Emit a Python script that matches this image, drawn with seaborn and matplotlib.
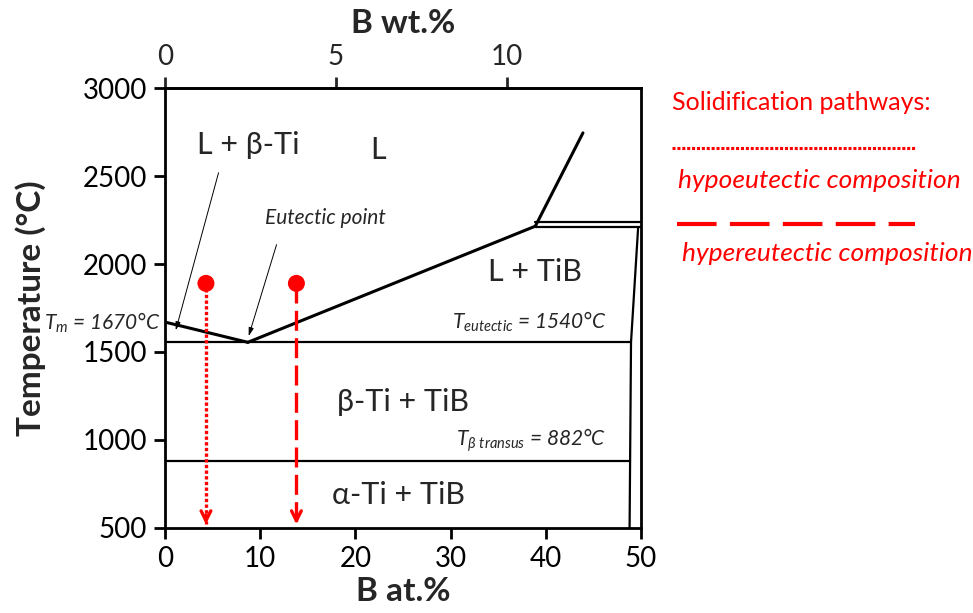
import numpy as np
import pandas as pd
import matplotlib
matplotlib.use("Agg")
import matplotlib.pyplot as plt
from matplotlib.lines import Line2D
import seaborn as sns

# phase boundaries (B at.%, temperature in C)
liq_left_x = [0, 8.7]
liq_left_t = [1670, 1555]
liq_right_x = [8.7, 38.9]
liq_right_t = [1555, 2215]
liq_upper_x = [38.9, 43.9]
liq_upper_t = [2215, 2745]
tib_top1_x = [38.9, 50]
tib_top1_t = [2240, 2240]
tib_top2_x = [38.9, 50]
tib_top2_t = [2210, 2210]
tib_side_x = [49.7, 48.95, 48.8]
tib_side_t = [2210, 1555, 500]
eutectic_x = [0, 48.95]
eutectic_t = [1555, 1555]
transus_x = [0, 48.8]
transus_t = [882, 882]

# solidification pathways
hypo_x = 4.3
hyper_x = 13.8
start_t = 1890
end_t = 500

# top axis: 10 wt.% sits at about 35.9 at.%
wt10_at = 35.9

sns.set_style("white")
plt.rcParams["font.family"] = ["Lato", "DejaVu Sans"]
plt.rcParams["mathtext.fontset"] = "custom"
plt.rcParams["mathtext.rm"] = "Lato"
plt.rcParams["mathtext.it"] = "Lato:italic"

fig = plt.figure(figsize=(9.73, 6.13), dpi=100)
ax = fig.add_axes([0.1696, 0.1387, 0.4892, 0.7177])

segments = [
    (liq_left_x, liq_left_t, 2.2),
    (liq_right_x, liq_right_t, 2.2),
    (liq_upper_x, liq_upper_t, 2.2),
    (tib_top1_x, tib_top1_t, 1.6),
    (tib_top2_x, tib_top2_t, 1.6),
    (tib_side_x, tib_side_t, 1.6),
    (eutectic_x, eutectic_t, 1.6),
    (transus_x, transus_t, 1.6),
]
for xs, ts, lw in segments:
    sns.lineplot(x=xs, y=ts, ax=ax, color="black", lw=lw, sort=False,
                 estimator=None)

# pathways
sns.lineplot(x=[hypo_x, hypo_x], y=[start_t, end_t + 25], ax=ax, color="red",
             lw=2.4, linestyle=(0, (1, 0.7)), sort=False, estimator=None)
sns.lineplot(x=[hyper_x, hyper_x], y=[start_t, end_t + 25], ax=ax, color="red",
             lw=2.4, linestyle=(0, (6, 2.2)), sort=False, estimator=None)
sns.scatterplot(x=[hypo_x, hyper_x], y=[start_t, start_t], ax=ax, color="red",
                s=150, edgecolor="none", zorder=5)
for px in [hypo_x, hyper_x]:
    ax.annotate("", xy=(px, end_t + 5), xytext=(px, end_t + 90),
                arrowprops=dict(arrowstyle="->,head_width=0.35,head_length=0.7",
                                color="red", lw=2.4))

ax.set_xlim(0, 50)
ax.set_ylim(500, 3000)
ax.set_xticks([0, 10, 20, 30, 40, 50])
ax.set_yticks([500, 1000, 1500, 2000, 2500, 3000])
ax.tick_params(direction="out", length=8, width=2, labelsize=20, colors="black",
               bottom=True, left=True, pad=5)
for sp in ax.spines.values():
    sp.set_linewidth(2)
    sp.set_color("black")
ax.set_xlabel("B at.%", fontsize=24, fontweight="bold")
ax.set_ylabel("Temperature (°C)", fontsize=24, fontweight="bold")
ax.xaxis.set_label_coords(0.5, -0.112)
ax.yaxis.set_label_coords(-0.25, 0.5)

top = ax.secondary_xaxis("top", functions=(lambda a: a * 10 / wt10_at,
                                           lambda w: w * wt10_at / 10))
top.set_xticks([0, 5, 10])
top.tick_params(direction="out", length=8, width=2, labelsize=20, pad=5)
top.spines["top"].set_linewidth(2)
top.set_xlabel("B wt.%", fontsize=24, fontweight="bold", labelpad=8)

# region labels
ax.text(8.7, 2676, "L + β-Ti", fontsize=22, ha="center", va="center")
ax.text(22.4, 2648, "L", fontsize=22, ha="center", va="center")
ax.text(38.9, 1955, "L + TiB", fontsize=22, ha="center", va="center")
ax.text(25.0, 1216, "β-Ti + TiB", fontsize=22, ha="center", va="center")
ax.text(24.5, 687, "α-Ti + TiB", fontsize=22, ha="center", va="center")

ax.text(16.8, 2261, "Eutectic point", fontsize=15, style="italic",
        ha="center", va="center")
ax.text(-0.5, 1668, r"$T_m$ = 1670°C", fontsize=15, style="italic",
        ha="right", va="center")
ax.text(46.4, 1672, r"$T_{eutectic}$ = 1540°C", fontsize=15, style="italic",
        ha="right", va="center")
ax.text(46.3, 996, r"$T_{β\ transus}$ = 882°C", fontsize=15, style="italic",
        ha="right", va="center")

arrow_kw = dict(arrowstyle="-|>,head_width=0.15,head_length=0.5", color="black",
                lw=0.7)
ax.annotate("", xy=(1.05, 1608), xytext=(5.7, 2534), arrowprops=arrow_kw)
ax.annotate("", xy=(8.7, 1575), xytext=(11.8, 2125), arrowprops=arrow_kw)

# legend on the right
fig.text(0.6906, 0.832, "Solidification pathways:", color="red", fontsize=18,
         ha="left", va="center")
fig.add_artist(Line2D([0.6906, 0.9404], [0.7586, 0.7586], color="red", lw=2.2,
                      linestyle=(0, (1, 0.6)), transform=fig.transFigure))
fig.text(0.697, 0.706, "hypoeutectic composition", color="red", fontsize=19,
         style="italic", ha="left", va="center")
fig.add_artist(Line2D([0.6958, 0.9404], [0.6346, 0.6346], color="red", lw=3,
                      linestyle=(0, (9.5, 3.2)), transform=fig.transFigure))
fig.text(0.701, 0.587, "hypereutectic composition", color="red", fontsize=19,
         style="italic", ha="left", va="center")

fig.savefig("out.png", dpi=100)
